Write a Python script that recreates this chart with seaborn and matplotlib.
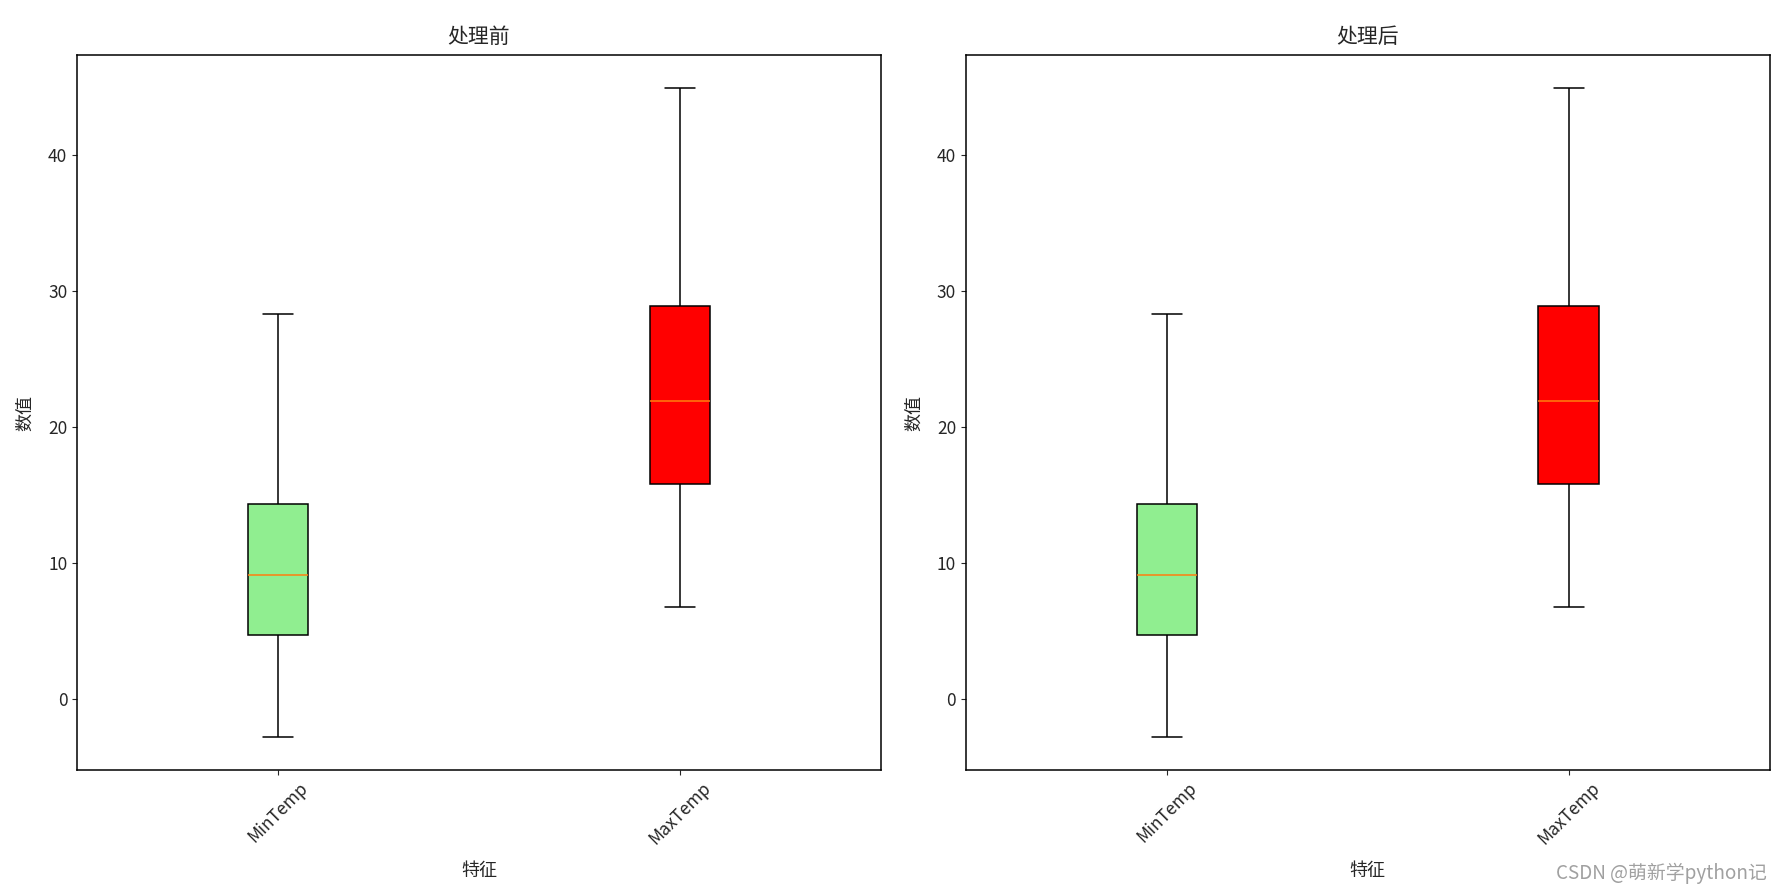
import numpy as np
import pandas as pd
import matplotlib
matplotlib.use("Agg")
import matplotlib.pyplot as plt
import seaborn as sns

sns.set_style("ticks")
plt.rcParams["font.family"] = ["Noto Sans CJK SC", "DejaVu Sans"]
plt.rcParams["axes.unicode_minus"] = False

# %%
# five-number summaries: min, q1, median, q3, max
features = ["MinTemp", "MaxTemp"]
box_colors = ["lightgreen", "red"]
summary_before = {
    "MinTemp": [-2.8, 4.7, 9.1, 14.3, 28.3],
    "MaxTemp": [6.8, 15.8, 21.9, 28.9, 44.9],
}
summary_after = {
    "MinTemp": [-2.8, 4.7, 9.1, 14.3, 28.3],
    "MaxTemp": [6.8, 15.8, 21.9, 28.9, 44.9],
}
titles = ["处理前", "处理后"]


def to_long(summary):
    rows = []
    for f in features:
        for v in summary[f]:
            rows.append({"特征": f, "数值": v})
    return pd.DataFrame(rows)


# %%
fig, axes = plt.subplots(1, 2, figsize=(17.82, 8.92), dpi=100)
fig.subplots_adjust(left=0.0432, right=0.993, top=0.938, bottom=0.137, wspace=0.106)

for ax, summary, title in zip(axes, [summary_before, summary_after], titles):
    df = to_long(summary)
    sns.boxplot(
        data=df, x="特征", y="数值", hue="特征", order=features, hue_order=features,
        palette=box_colors, saturation=1, width=0.15, whis=(0, 100),
        linecolor="black", linewidth=1.1, legend=False, ax=ax,
        medianprops=dict(color="#ff7f0e", linewidth=1.1),
        capwidths=0.075,
    )
    ax.set_title(title, fontsize=15, pad=9)
    ax.set_xlabel("特征", fontsize=13, labelpad=10)
    ax.set_ylabel("数值", fontsize=13, labelpad=10)
    ax.set_xlim(-0.5, 1.5)
    ax.set_ylim(-5.185, 47.285)
    ax.set_yticks([0, 10, 20, 30, 40])
    ax.tick_params(axis="x", labelrotation=45, labelsize=12.5)
    ax.tick_params(axis="y", labelsize=12.5)
    for s in ax.spines.values():
        s.set_color("black")
        s.set_linewidth(1.1)

fig.text(0.9916, 0.021, "CSDN @萌新学python记", ha="right", va="center",
         fontsize=13.6, color="#a0a0a0")

plt.savefig("out.png", dpi=100)
